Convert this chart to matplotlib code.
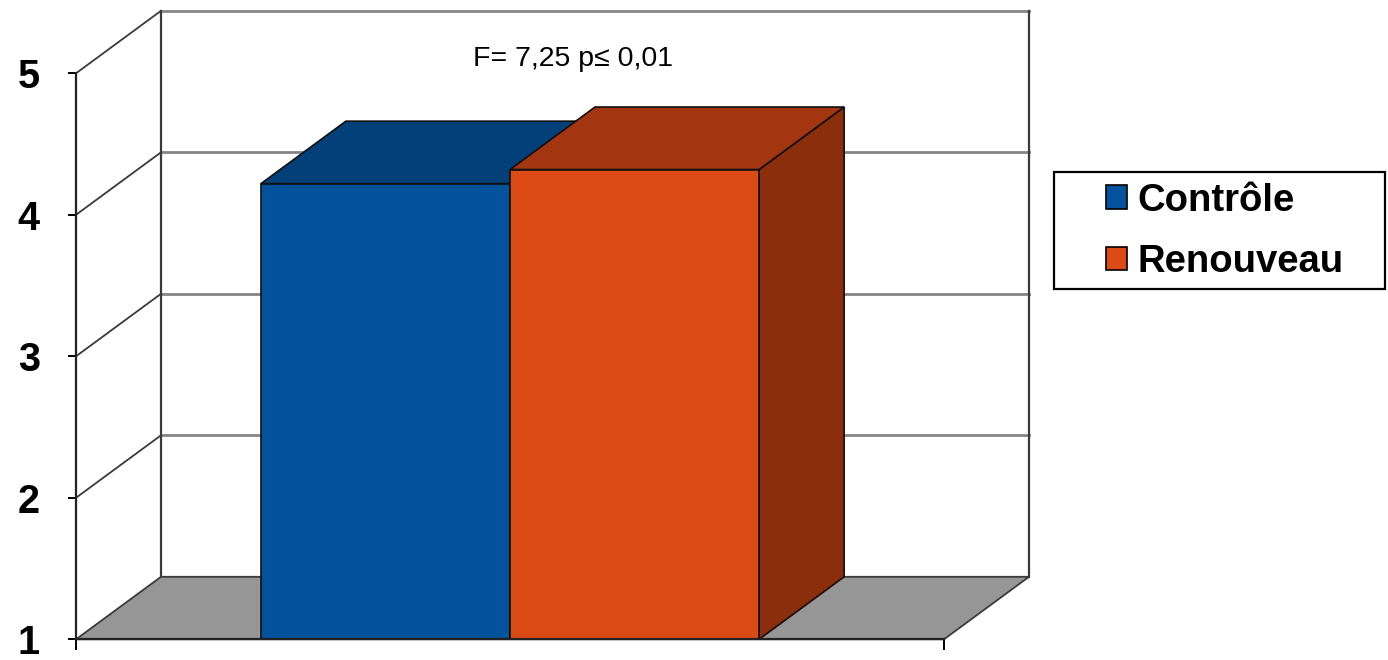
import matplotlib
matplotlib.use("Agg")
import matplotlib.pyplot as plt
from matplotlib.patches import Polygon, Patch, Rectangle

plt.rcParams['font.family'] = ['Liberation Sans', 'DejaVu Sans']

# data
series = ['Contrôle', 'Renouveau']
values = [4.22, 4.32]
front_colors = ['#02529c', '#dc4a15']
top_colors = ['#033f78', '#a33511']
side_colors = ['#02366a', '#8b2e0c']
yticks = [1, 2, 3, 4, 5]
note = 'F= 7,25 p\u2264 0,01'

W, H = 1388, 660
fig = plt.figure(figsize=(W / 100, H / 100), dpi=100)
# front plane of the 3D box
ax = fig.add_axes([76 / W, 20.7 / H, 868 / W, 566 / H])
ax.set_xlim(0, 1)
ax.set_ylim(1, 5)

# oblique depth offset (data units)
DX = 85 / 868
DY = 62.5 / 141.5

wall = '#3a3a3a'
grid = '#858585'

# back wall + gridlines
for v in yticks[1:]:
    ax.plot([DX, 1 + DX], [v + DY, v + DY], color=grid, lw=2, clip_on=False, zorder=1)
ax.plot([DX, DX], [1 + DY, 5 + DY], color=wall, lw=1.6, clip_on=False, zorder=1)
ax.plot([1 + DX, 1 + DX], [1 + DY, 5 + DY], color=wall, lw=1.6, clip_on=False, zorder=1)
# left wall diagonals
for v in yticks[1:]:
    ax.plot([0, DX], [v, v + DY], color=wall, lw=1.3, clip_on=False, zorder=1)

# floor
floor = Polygon([(0, 1), (1, 1), (1 + DX, 1 + DY), (DX, 1 + DY)], closed=True,
                facecolor='#969696', edgecolor=wall, lw=1.3, clip_on=False, zorder=2)
ax.add_patch(floor)

# bars
bw = 0.287
x0 = 0.5 - bw
for i, (v, fc, tc, sc) in enumerate(zip(values, front_colors, top_colors, side_colors)):
    l = x0 + i * bw
    r = l + bw
    z = 3 + i
    side = Polygon([(r, 1), (r + DX, 1 + DY), (r + DX, v + DY), (r, v)],
                   facecolor=sc, edgecolor='#1a0a05', lw=1.2, clip_on=False, zorder=z)
    top = Polygon([(l, v), (r, v), (r + DX, v + DY), (l + DX, v + DY)],
                  facecolor=tc, edgecolor='#101010', lw=1.2, clip_on=False, zorder=z)
    front = Polygon([(l, 1), (r, 1), (r, v), (l, v)],
                    facecolor=fc, edgecolor='#101010', lw=1.2, clip_on=False, zorder=z)
    for p in (side, top, front):
        ax.add_patch(p)

# axes styling
for s in ('top', 'right'):
    ax.spines[s].set_visible(False)
for s in ('left', 'bottom'):
    ax.spines[s].set_color('#222222')
    ax.spines[s].set_linewidth(1.6)
    ax.spines[s].set_zorder(10)
ax.patch.set_visible(False)
ax.set_yticks(yticks)
ax.set_yticklabels([str(t) for t in yticks], fontsize=28.5, fontweight='bold')
ax.tick_params(axis='y', direction='out', length=6, width=1.4, pad=20)
ax.set_xticks([0, 1])
ax.set_xticklabels(['', ''])
ax.tick_params(axis='x', direction='out', length=8, width=1.4)

# annotation
fig.text(573 / W, 1 - 59 / H, note, fontsize=20.5, ha='center', va='center')

# legend (frame drawn separately: the entries sit off-centre in the box)
fig.patches.append(Rectangle((1054 / W, 1 - 289 / H), 331 / W, 117 / H,
                             transform=fig.transFigure, facecolor='white',
                             edgecolor='black', lw=1.6, zorder=0))
handles = [Patch(facecolor=c, edgecolor='black', lw=1.2) for c in front_colors]
leg = fig.legend(handles, series, loc='center left',
                 bbox_to_anchor=(1106 / W, 1 - 231.5 / H),
                 prop={'size': 27.5, 'weight': 'bold'},
                 frameon=False,
                 handlelength=0.55, handleheight=0.55, handletextpad=0.27,
                 labelspacing=0.68, borderpad=0, borderaxespad=0)

fig.savefig('out.png', dpi=100)
